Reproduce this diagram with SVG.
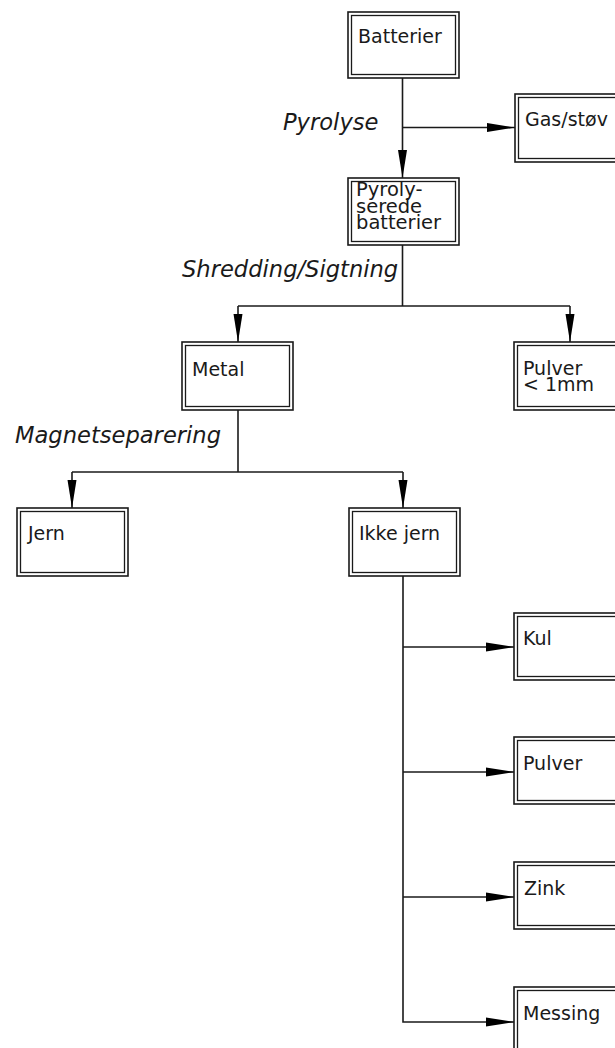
<svg xmlns="http://www.w3.org/2000/svg" width="615" height="1048" viewBox="0 0 615 1048">
<style>
.o{fill:#fff;stroke:#1a1a1a;stroke-width:1.6}
.i{fill:none;stroke:#1a1a1a;stroke-width:1.3}
.t{font-family:"DejaVu Sans",Verdana,sans-serif;font-size:19px;fill:#1a1a1a}
.p{font-family:"DejaVu Sans",Verdana,sans-serif;font-size:19.5px;fill:#1a1a1a}
.l{font-family:"DejaVu Sans",Verdana,sans-serif;font-size:22.6px;font-style:italic;fill:#1a1a1a}
.c{fill:none;stroke:#1a1a1a;stroke-width:1.6}
</style>
<defs>
<marker id="ah" markerUnits="userSpaceOnUse" markerWidth="28" markerHeight="10" refX="28" refY="4.5" orient="auto" viewBox="0 0 28 9">
<path d="M0,0 L28,4.5 L0,9 z" fill="#000"/>
</marker>
</defs>
<rect width="615" height="1048" fill="#fff"/>
<g id="connectors">
<path class="c" d="M402.5,78 V178" marker-end="url(#ah)"/>
<path class="c" d="M402.5,127.5 H515" marker-end="url(#ah)"/>
<path class="c" d="M402.5,245 V306"/>
<path class="c" d="M238,306 H570"/>
<path class="c" d="M238,306 V342" marker-end="url(#ah)"/>
<path class="c" d="M570,306 V342" marker-end="url(#ah)"/>
<path class="c" d="M238,410 V472"/>
<path class="c" d="M72,472 H403"/>
<path class="c" d="M72,472 V508" marker-end="url(#ah)"/>
<path class="c" d="M403,472 V508" marker-end="url(#ah)"/>
<path class="c" d="M403,576 V1022 H514" marker-end="url(#ah)"/>
<path class="c" d="M403,647 H514" marker-end="url(#ah)"/>
<path class="c" d="M403,772 H514" marker-end="url(#ah)"/>
<path class="c" d="M403,897 H514" marker-end="url(#ah)"/>
<text class="l" x="283" y="130">Pyrolyse</text>
<text class="l" x="182" y="277">Shredding/Sigtning</text>
<text class="l" x="15" y="443">Magnetseparering</text>
</g>
<g id="batterier">
<rect class="o" x="348" y="12" width="111" height="66"/>
<rect class="i" x="351.5" y="15.5" width="104" height="59"/>
<text class="t" x="358" y="43">Batterier</text>
</g>
<g id="gas">
<rect class="o" x="515" y="94" width="111" height="68"/>
<rect class="i" x="518.5" y="97.5" width="104" height="61"/>
<text class="t" x="525" y="126">Gas/støv</text>
</g>
<g id="pyrolyserede">
<rect class="o" x="348" y="178" width="111" height="67"/>
<rect class="i" x="351.5" y="181.5" width="104" height="60"/>
<text class="p" x="356" y="196">Pyroly-</text>
<text class="p" x="356" y="212.5">serede</text>
<text class="p" x="356" y="229">batterier</text>
</g>
<g id="metal">
<rect class="o" x="182" y="342" width="111" height="68"/>
<rect class="i" x="185.5" y="345.5" width="104" height="61"/>
<text class="t" x="192" y="376">Metal</text>
</g>
<g id="pulver1mm">
<rect class="o" x="514" y="342" width="111" height="68"/>
<rect class="i" x="517.5" y="345.5" width="104" height="61"/>
<text class="t" x="523" y="375">Pulver</text>
<text class="t" x="523" y="391">&lt;  1mm</text>
</g>
<g id="jern">
<rect class="o" x="17" y="508" width="111" height="68"/>
<rect class="i" x="20.5" y="511.5" width="104" height="61"/>
<text class="t" x="28" y="540">Jern</text>
</g>
<g id="ikkejern">
<rect class="o" x="349" y="508" width="111" height="68"/>
<rect class="i" x="352.5" y="511.5" width="104" height="61"/>
<text class="t" x="359" y="540">Ikke jern</text>
</g>
<g id="kul">
<rect class="o" x="514" y="613" width="111" height="67"/>
<rect class="i" x="517.5" y="616.5" width="104" height="60"/>
<text class="t" x="523" y="645">Kul</text>
</g>
<g id="pulver">
<rect class="o" x="514" y="737" width="111" height="67"/>
<rect class="i" x="517.5" y="740.5" width="104" height="60"/>
<text class="t" x="523" y="770">Pulver</text>
</g>
<g id="zink">
<rect class="o" x="514" y="862" width="111" height="67"/>
<rect class="i" x="517.5" y="865.5" width="104" height="60"/>
<text class="t" x="524" y="895">Zink</text>
</g>
<g id="messing">
<rect class="o" x="514" y="987" width="111" height="67"/>
<rect class="i" x="517.5" y="990.5" width="104" height="60"/>
<text class="t" x="523" y="1020">Messing</text>
</g>
</svg>
